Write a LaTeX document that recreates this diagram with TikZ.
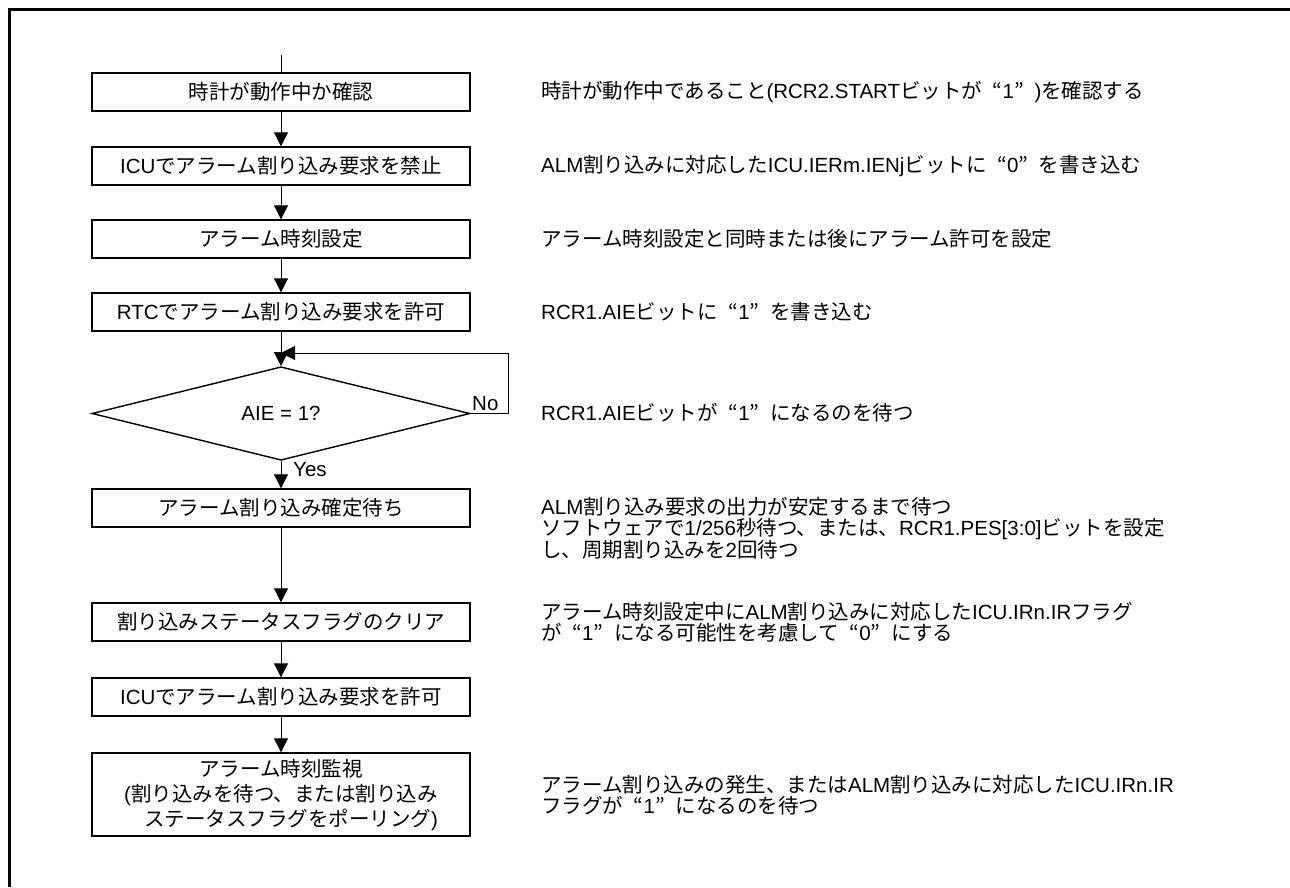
\documentclass[tikz,border=0pt]{standalone}
\usepackage{fontspec}
\setmainfont{Noto Sans CJK JP}
\newfontfamily\lat{Liberation Sans}
\usetikzlibrary{arrows.meta,shapes.geometric}
\newcommand{\jq}[1]{\makebox[1em][r]{“}{\lat #1}\makebox[1em][l]{”}}
\begin{document}
\begin{tikzpicture}[x=1pt,y=-1pt,
 every node/.style={font=\fontsize{20.5}{25}\selectfont},
 proc/.style={draw, line width=1.4pt, minimum width=378pt, minimum height=38pt, inner sep=0pt, align=center},
 dec/.style={draw, diamond, line width=1.4pt, minimum width=378pt, minimum height=75pt, inner sep=0pt},
 desc/.style={anchor=west, align=left, inner sep=0pt, font=\fontsize{20.5}{21}\selectfont},
 link/.style={line width=1pt},
 conn/.style={line width=1pt, -{Triangle[length=14pt,width=14pt]}},
 lbl/.style={inner sep=0pt, font=\lat\fontsize{20.5}{24}\selectfont}
]
\useasboundingbox (0,0) rectangle (1290,887);
\draw[line width=3pt] (9.5,887) -- (9.5,9.5) -- (1290,9.5);

\node[proc] (b1) at (281,92) {時計が動作中か確認};
\node[proc] (b2) at (281,166) {{\lat ICU}でアラーム割り込み要求を禁止};
\node[proc] (b3) at (281,239) {アラーム時刻設定};
\node[proc] (b4) at (281,312) {{\lat RTC}でアラーム割り込み要求を許可};
\node[dec] (d) at (281,413.5) {\lat AIE = 1?};
\node[proc] (b5) at (281,508) {アラーム割り込み確定待ち};
\node[proc] (b6) at (281,622) {割り込みステータスフラグのクリア};
\node[proc] (b7) at (281,697) {{\lat ICU}でアラーム割り込み要求を許可};
\node[proc, minimum height=83pt] (b8) at (281,794.5) {アラーム時刻監視\\{\lat (}割り込みを待つ、または割り込み\\\hspace*{20pt}ステータスフラグをポーリング{\lat )}};

\coordinate (top) at (281,55);
\coordinate (lp) at (508,353);
\draw[link] (top) -- (b1);
\draw[conn] (b1) -- (b2);
\draw[conn] (b2) -- (b3);
\draw[conn] (b3) -- (b4);
\draw[conn] (b4) -- (d);
\draw[conn] (d) -- (b5);
\draw[conn] (b5) -- (b6);
\draw[conn] (b6) -- (b7);
\draw[conn] (b7) -- (b8);
\draw[conn] (d.east) -- (d.east -| lp) -- (lp) -- (lp -| d.north);

\node[lbl, anchor=west] (yes) at (293,470) {Yes};
\node[lbl, anchor=base west] (no) at (472,410) {No};

\node[desc] (t1) at (541,92) {時計が動作中であること{\lat (RCR2.START}ビットが\jq{1}{\lat )}を確認する};
\node[desc] (t2) at (541,166) {{\lat ALM}割り込みに対応した{\lat ICU.IERm.IENj}ビットに\jq{0}を書き込む};
\node[desc] (t3) at (541,239) {アラーム時刻設定と同時または後にアラーム許可を設定};
\node[desc] (t4) at (541,312) {{\lat RCR1.AIE}ビットに\jq{1}を書き込む};
\node[desc] (t5) at (541,413) {{\lat RCR1.AIE}ビットが\jq{1}になるのを待つ};
\node[desc] (t6) at (541,528) {{\lat ALM}割り込み要求の出力が安定するまで待つ\\ソフトウェアで{\lat 1/256}秒待つ、または、{\lat RCR1.PES[3:0]}ビットを設定\\し、周期割り込みを{\lat 2}回待つ};
\node[desc] (t7) at (541,622) {アラーム時刻設定中に{\lat ALM}割り込みに対応した{\lat ICU.IRn.IR}フラグ\\が\jq{1}になる可能性を考慮して\jq{0}にする};
\node[desc] (t8) at (541,795) {アラーム割り込みの発生、または{\lat ALM}割り込みに対応した{\lat ICU.IRn.IR}\\フラグが\jq{1}になるのを待つ};
\end{tikzpicture}
\end{document}
